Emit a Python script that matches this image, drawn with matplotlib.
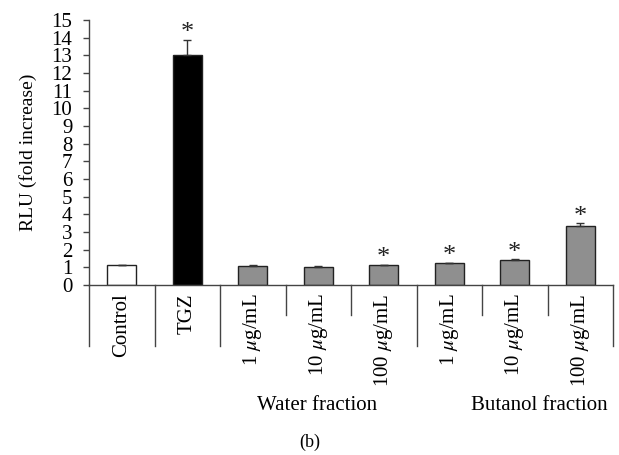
import matplotlib
matplotlib.use("Agg")
import matplotlib.pyplot as plt
from matplotlib.transforms import blended_transform_factory

plt.rcParams['font.family'] = ['Liberation Serif', 'DejaVu Serif']
plt.rcParams['mathtext.fontset'] = 'stix'

categories = ["Control", "TGZ", "1 $\\mu$g/mL", "10 $\\mu$g/mL", "100 $\\mu$g/mL",
              "1 $\\mu$g/mL", "10 $\\mu$g/mL", "100 $\\mu$g/mL"]
values = [1.13, 13.0, 1.07, 1.04, 1.11, 1.23, 1.40, 3.32]
errors = [0.0, 0.85, 0.05, 0.06, 0.04, 0.04, 0.05, 0.17]
significant = [False, True, False, False, True, True, True, True]
colors = ["white", "black", "#8f8f8f", "#8f8f8f", "#8f8f8f", "#8f8f8f", "#8f8f8f", "#8f8f8f"]
group_labels = ["Water fraction", "Butanol fraction"]
yticks = list(range(0, 16))

fig = plt.figure(figsize=(6.19, 4.55), dpi=100)
ax = fig.add_axes([89/619, 1-285/455, (613-89)/619, (285-20)/455])

x = list(range(len(categories)))
lo = [0]*len(errors)
ax.bar(x, values, width=0.44, color=colors, edgecolor="#222222", linewidth=1.0, zorder=2)
ax.errorbar(x, values, yerr=[lo, errors], fmt='none', ecolor="#333333",
            elinewidth=1.0, capsize=3, capthick=1.0, zorder=3)
for xi, v, e, s in zip(x, values, errors, significant):
    if s:
        ax.annotate("*", (xi, v + e), xytext=(0, -3), textcoords="offset points",
                    ha="center", va="bottom", fontsize=19, color="#222222")

ax.set_xlim(-0.5, len(categories) - 0.5)
ax.set_ylim(0, 15)
ax.set_yticks(yticks)
ax.set_yticklabels([str(t) for t in yticks], fontsize=15)
ax.tick_params(axis='y', direction='out', length=4, width=1, color="#444444", pad=8)
ax.set_xticks(x)
ax.set_xticklabels(categories, rotation=90, fontsize=15, va='top')
ax.tick_params(axis='x', length=0, pad=6)
for sp in ['top', 'right']:
    ax.spines[sp].set_visible(False)
for sp in ['left', 'bottom']:
    ax.spines[sp].set_color("#444444")
    ax.spines[sp].set_linewidth(1.0)

ax.set_ylabel("RLU (fold increase)", fontsize=14)
ax.yaxis.set_label_coords(-0.099, 0.5)

# group separators
trans = blended_transform_factory(ax.transData, ax.transAxes)
long_sep = [-0.5, 0.5, 1.5, 4.5, 7.5]
short_sep = [2.5, 3.5, 5.5, 6.5]
for s in long_sep:
    ax.plot([s, s], [0, -0.23], transform=trans, color="#444444", lw=1.0, clip_on=False)
for s in short_sep:
    ax.plot([s, s], [0, -0.113], transform=trans, color="#444444", lw=1.0, clip_on=False)

fig.text(317/619, 1-405/455, group_labels[0], ha="center", va="center", fontsize=15)
fig.text(539/619, 1-405/455, group_labels[1], ha="center", va="center", fontsize=15)
fig.text(310/619, 1-442/455, "(b)", ha="center", va="center", fontsize=13)

fig.savefig("out.png", dpi=100)
